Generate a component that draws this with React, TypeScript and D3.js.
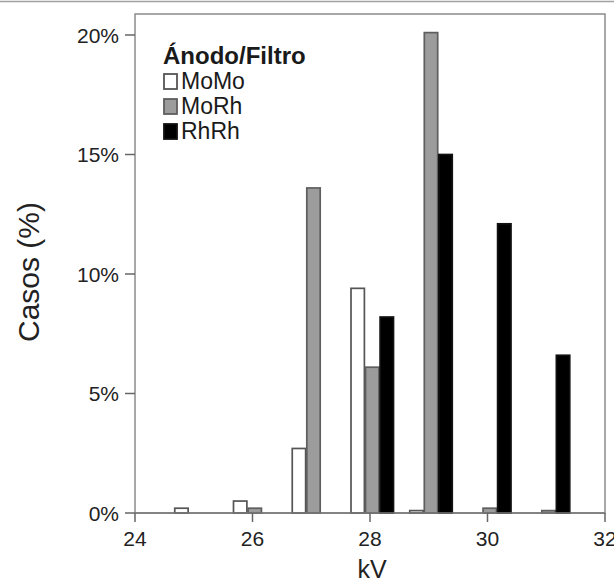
import React from "react";
import * as d3 from "d3";

const kvValues = [24, 25, 26, 27, 28, 29, 30, 31];
const seriesNames = ["MoMo", "MoRh", "RhRh"];
const moMo = [0, 0.2, 0.5, 2.7, 9.4, 0.1, 0, 0];
const moRh = [0, 0, 0.2, 13.6, 6.1, 20.1, 0.2, 0.1];
const rhRh = [0, 0, 0, 0, 8.2, 15.0, 12.1, 6.6];
const xTicks = [24, 26, 28, 30, 32];
const yTicks = [0, 5, 10, 15, 20];
const legendTitle = "Ánodo/Filtro";
const xTitle = "kV";
const yTitle = "Casos (%)";

const W = 614;
const H = 582;
const left = 135;
const right = 605;
const top = 14;
const bottom = 513;

const fills: Record<string, string> = { MoMo: "#ffffff", MoRh: "#9c9c9c", RhRh: "#000000" };
const strokes: Record<string, string> = { MoMo: "#555555", MoRh: "#5e5e5e", RhRh: "#111111" };
const font = "'Liberation Sans', Arial, Helvetica, sans-serif";

export default function App() {
  const x = d3.scaleLinear().domain([24, 32]).range([left, right]);
  const y = d3.scaleLinear().domain([0, 20]).range([bottom, bottom - 478]);
  const inner = d3.scaleBand<string>().domain(seriesNames).range([-19, 23.5]).paddingInner(0.08);
  const seriesData: Record<string, number[]> = { MoMo: moMo, MoRh: moRh, RhRh: rhRh };

  const bars: React.ReactNode[] = [];
  seriesNames.forEach((s) => {
    seriesData[s].forEach((v, i) => {
      if (v <= 0) return;
      const kv = kvValues[i];
      const bx = x(kv) + (inner(s) as number);
      bars.push(
        <rect
          key={s + kv}
          x={bx}
          y={y(v)}
          width={inner.bandwidth()}
          height={bottom - y(v)}
          fill={fills[s]}
          stroke={strokes[s]}
          strokeWidth={1.7}
        />
      );
    });
  });

  return (
    <svg width={W} height={H} style={{ position: "absolute", left: 0, top: 0 }} fontFamily={font}>
      <rect x={0} y={0} width={W} height={H} fill="#ffffff" />
      <line x1={0} x2={W} y1={1.5} y2={1.5} stroke="#a0a0a0" strokeWidth={1.5} />
      <rect x={left} y={top} width={right - left} height={bottom - top} fill="none" stroke="#8c8c8c" strokeWidth={1.5} />
      {bars}
      <line x1={left} x2={right} y1={bottom} y2={bottom} stroke="#777" strokeWidth={1.5} />
      {yTicks.map((t) => (
        <g key={"y" + t}>
          <line x1={left - 10} x2={left} y1={y(t)} y2={y(t)} stroke="#666" strokeWidth={1.5} />
          <text x={left - 16} y={y(t) + 7.5} textAnchor="end" fontSize={21} fill="#222">
            {t + "%"}
          </text>
        </g>
      ))}
      {xTicks.map((t) => (
        <g key={"x" + t}>
          <line x1={x(t)} x2={x(t)} y1={bottom} y2={bottom + 9} stroke="#666" strokeWidth={1.5} />
          <text x={x(t)} y={bottom + 33} textAnchor="middle" fontSize={21} fill="#222">
            {t}
          </text>
        </g>
      ))}
      <text x={372} y={578} textAnchor="middle" fontSize={25} fill="#222">
        {xTitle}
      </text>
      <text transform={`translate(39,272) rotate(-90)`} textAnchor="middle" fontSize={30} fill="#222">
        {yTitle}
      </text>
      <text x={163} y={64} fontSize={24} fontWeight="bold" fill="#1a1a1a">
        {legendTitle}
      </text>
      {seriesNames.map((s, i) => (
        <g key={"lg" + s}>
          <rect x={164} y={74 + i * 25} width={13} height={15} fill={fills[s]} stroke={strokes[s]} strokeWidth={1.8} />
          <text x={181} y={89 + i * 25} fontSize={23} fill="#1a1a1a">
            {s}
          </text>
        </g>
      ))}
    </svg>
  );
}
